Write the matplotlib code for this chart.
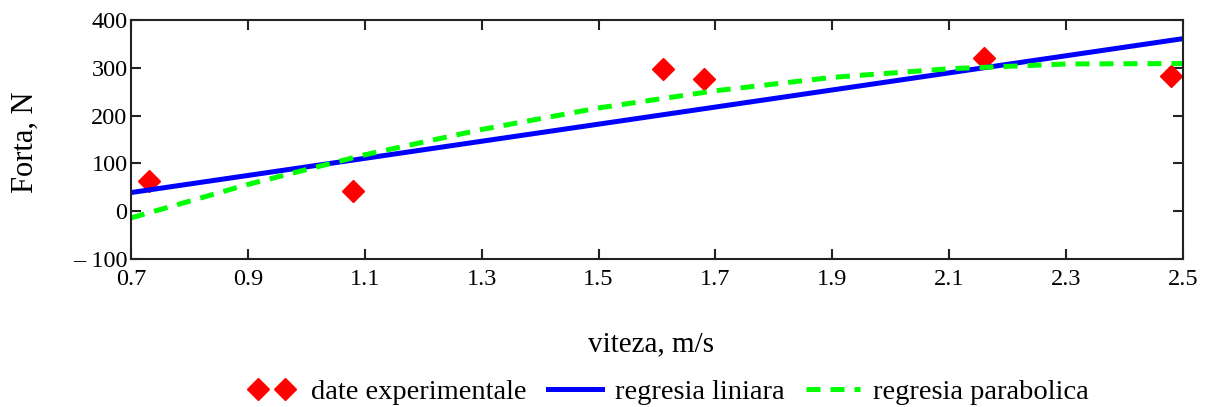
import numpy as np
import matplotlib
matplotlib.use('Agg')
import matplotlib.pyplot as plt
from matplotlib.legend_handler import HandlerLine2D

plt.rcParams['font.family'] = ['Liberation Serif', 'DejaVu Serif']

# Experimental points (speed m/s, force N)
v_exp = [0.73, 1.08, 1.61, 1.68, 2.16, 2.48]
f_exp = [63, 42, 297, 277, 320, 283]

# Linear regression line, read at the ends of the axis
v_lin = [0.7, 2.5]
f_lin = [39, 361]

# Parabolic regression, read at the x ticks
v_par = [0.7, 0.9, 1.1, 1.3, 1.5, 1.7, 1.9, 2.1, 2.3, 2.5]
f_par = [-14, 56, 118, 171, 216, 252, 280, 298, 308, 309]

x_ticks = [0.7, 0.9, 1.1, 1.3, 1.5, 1.7, 1.9, 2.1, 2.3, 2.5]
y_ticks = [-100, 0, 100, 200, 300, 400]
y_ticklabels = ['\u2013 100', '0', '100', '200', '300', '400']

fig = plt.figure(figsize=(12.09, 4.07), dpi=100)
ax = fig.add_axes([131 / 1209, 1 - 259 / 407, 1052 / 1209, 239 / 407])

pts, = ax.plot(v_exp, f_exp, linestyle='none', marker='D', markersize=11,
               color='#ff0000', label='date experimentale')
ax.plot(v_lin, f_lin, color='#0000ff', linewidth=3.6, label='regresia liniara')
ax.plot(v_par, f_par, color='#00ff00', linewidth=3.6, linestyle=(0, (2.8, 2.0)),
        label='regresia parabolica')

ax.set_xlim(0.7, 2.5)
ax.set_ylim(-100, 400)
ax.set_xticks(x_ticks)
ax.set_xticklabels([f'{t:.1f}' for t in x_ticks])
ax.set_yticks(y_ticks)
ax.set_yticklabels(y_ticklabels)

for s in ax.spines.values():
    s.set_linewidth(1.5)
    s.set_color('#222222')
ax.tick_params(direction='in', length=7.2, width=1.5, top=True, right=True,
               labelsize=17.5, color='#222222')
ax.tick_params(axis='x', pad=7)
ax.tick_params(axis='y', pad=2.5)

ax.set_xlabel('viteza, m/s', fontsize=21)
ax.xaxis.label.set_va('center')
ax.xaxis.set_label_coords(0.494, -0.356)
ax.set_ylabel('Forta, N', fontsize=22)
ax.yaxis.label.set_va('center')
ax.yaxis.set_label_coords(-0.1, 0.49)

fig.legend(loc='center', bbox_to_anchor=(666.5 / 1209, 1 - 392 / 407), ncol=3,
           frameon=False, fontsize=20.5, numpoints=1, handlelength=1.9,
           handletextpad=0.45, columnspacing=0.75, borderaxespad=0,
           handler_map={pts: HandlerLine2D(numpoints=2, marker_pad=0.47)})

plt.savefig('out.png', dpi=100)
